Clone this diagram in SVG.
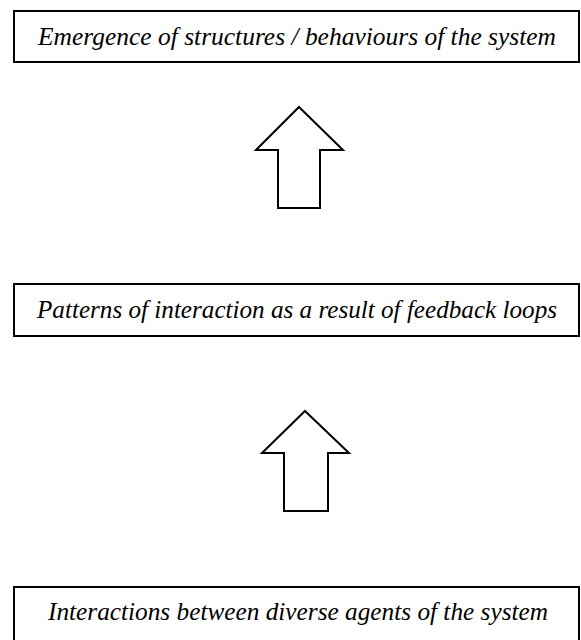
<svg xmlns="http://www.w3.org/2000/svg" width="581" height="640" viewBox="0 0 581 640">
<style>
.box{fill:#fff;stroke:#000;stroke-width:2}
.arrow{fill:#fff;stroke:#000;stroke-width:2;stroke-linejoin:miter}
.lbl{font-family:"Liberation Serif","Times New Roman",serif;font-style:italic;font-size:25px;fill:#000;text-anchor:middle}
</style>
<rect width="581" height="640" fill="#fff"/>
<g id="node-emergence">
<rect class="box" x="14" y="11" width="565" height="51"/>
<text class="lbl" x="297" y="45" textLength="518" lengthAdjust="spacingAndGlyphs">Emergence of structures / behaviours of the system</text>
</g>
<g id="node-patterns">
<rect class="box" x="14" y="284" width="565" height="52"/>
<text class="lbl" x="297" y="318" textLength="520" lengthAdjust="spacingAndGlyphs">Patterns of interaction as a result of feedback loops</text>
</g>
<g id="node-interactions">
<rect class="box" x="14" y="587" width="565" height="60"/>
<text class="lbl" x="298" y="620" textLength="500" lengthAdjust="spacingAndGlyphs">Interactions between diverse agents of the system</text>
</g>
<g id="connectors">
<polygon class="arrow" points="299,107 343,150 320,150 320,208 278,208 278,150 256,150"/>
<polygon class="arrow" points="305,411 349,453 328,453 328,511 284,511 284,453 262,453"/>
</g>
</svg>
